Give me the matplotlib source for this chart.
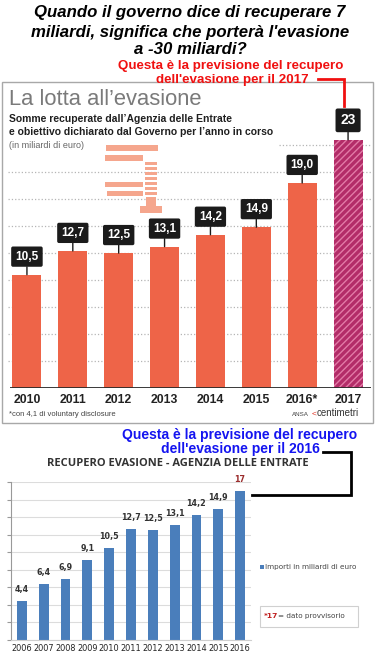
import matplotlib.pyplot as plt
from matplotlib.patches import Rectangle

# data - top panel (ANSA)
years_top = ['2010', '2011', '2012', '2013', '2014', '2015', '2016*', '2017']
values_top = [10.5, 12.7, 12.5, 13.1, 14.2, 14.9, 19.0, 23]
labels_top = ['10,5', '12,7', '12,5', '13,1', '14,2', '14,9', '19,0', '23']

# data - bottom panel (Agenzia delle Entrate)
years_bot = ['2006', '2007', '2008', '2009', '2010', '2011', '2012', '2013', '2014', '2015', '2016']
values_bot = [4.4, 6.4, 6.9, 9.1, 10.5, 12.7, 12.5, 13.1, 14.2, 14.9, 17]
labels_bot = ['4,4', '6,4', '6,9', '9,1', '10,5', '12,7', '12,5', '13,1', '14,2', '14,9', '17']

W, H = 375, 660
ARIAL = ['Liberation Sans', 'DejaVu Sans']

plt.rcParams['hatch.linewidth'] = 1.0
fig = plt.figure(figsize=(W / 100, H / 100), dpi=100)
fig.patch.set_facecolor('white')


def px_axes(left, top, right, bottom):
    return fig.add_axes([left / W, 1 - bottom / H, (right - left) / W, (bottom - top) / H])


# ---- top panel bars ----
ax1 = px_axes(4, 129, 371, 388)
ax1.set_xlim(-0.5, 7.5)
ax1.set_ylim(0, 24)
for s in ax1.spines.values():
    s.set_visible(False)
ax1.set_yticks([])
ax1.patch.set_alpha(0)

grid_levels = [2.5, 5, 7.5, 10, 12.5, 15, 17.5, 20]
ax1.hlines(grid_levels, -0.41, 7.5, colors='#b5b5b5', linestyles=':', lw=0.9, zorder=0)
ax1.hlines(22.5, 5.5, 7.5, colors='#b5b5b5', linestyles=':', lw=0.9, zorder=0)

colors_top = ['#ee6448'] * 7 + ['#b32c68']
bars = ax1.bar(range(len(values_top)), values_top, width=0.63, color=colors_top, lw=0, zorder=2)
bars[-1].set_hatch('/////')
bars[-1].set_edgecolor('#e27aa6')
ax1.hlines(0, -0.37, 7.5, colors='#2a2a2a', lw=1.3, zorder=3)

for i, (v, lab) in enumerate(zip(values_top, labels_top)):
    big = i == len(values_top) - 1
    ax1.annotate(lab, xy=(i, v), xytext=(0, 14 if big else 13), textcoords='offset points',
                 ha='center', va='center', color='white', fontweight='bold',
                 fontsize=10 if big else 8.5, family=ARIAL,
                 bbox=dict(boxstyle='round,pad=0.35,rounding_size=0.15', fc='#1b1b1b', ec='none'),
                 arrowprops=dict(arrowstyle='-', color='#1b1b1b', lw=1, shrinkA=0, shrinkB=0),
                 zorder=4)

ax1.set_xticks(range(len(years_top)))
ax1.set_xticklabels(years_top, fontsize=8.8, fontweight='bold', family=ARIAL, color='#222')
ax1.tick_params(axis='x', length=0, pad=4)

# ---- bottom panel bars ----
ax2 = px_axes(11, 482, 251, 640)
ax2.set_xlim(-0.5, 10.5)
ax2.set_ylim(0, 18)
ax2.set_axisbelow(True)
ax2.yaxis.grid(True, color='#dcdcdc', lw=0.8)
for k in ['top', 'right']:
    ax2.spines[k].set_visible(False)
ax2.spines['left'].set_color('#999')
ax2.spines['bottom'].set_color('#cfcfcf')
ax2.set_yticks(range(0, 19, 2))
ax2.set_yticklabels([])
ax2.tick_params(axis='y', length=3, color='#999')
ax2.bar(range(len(values_bot)), values_bot, width=0.45, color='#4a7ebb', lw=0)
for i, (v, lab) in enumerate(zip(values_bot, labels_bot)):
    ax2.annotate(lab, xy=(i, v), xytext=(0, 5), textcoords='offset points', ha='center',
                 va='bottom', fontsize=5.8, fontweight='bold',
                 color='#9b2d2d' if lab == '17' else '#333')
ax2.set_xticks(range(len(years_bot)))
ax2.set_xticklabels(years_bot, fontsize=5.9, color='#222')
ax2.tick_params(axis='x', length=0, pad=3)

# ---- overlay in pixel coordinates ----
ov = fig.add_axes([0, 0, 1, 1])
ov.set_xlim(0, W)
ov.set_ylim(H, 0)
ov.axis('off')

# main title
title = ["Quando il governo dice di recuperare 7",
         "miliardi, significa che porterà l'evasione",
         "a -30 miliardi?"]
for y, line in zip([13, 32, 50], title):
    ov.text(190, y, line, ha='center', va='center', fontsize=12.1, fontweight='bold',
            fontstyle='italic', family=ARIAL, color='black')

# red note
ov.text(231, 66, "Questa è la previsione del recupero", ha='center', va='center',
        fontsize=9.6, fontweight='bold', family=ARIAL, color='#f01010')
ov.text(232, 80, "dell'evasione per il 2017", ha='center', va='center',
        fontsize=9.6, fontweight='bold', family=ARIAL, color='#f01010')
ov.plot([318, 344, 344], [79, 79, 106], color='#f01010', lw=2, solid_joinstyle='miter')

# top panel frame and headings
ov.add_patch(Rectangle((2, 82), 371, 341, fc='none', ec='#a8a8a8', lw=1))
ov.text(9, 105, "La lotta all’evasione", ha='left', va='baseline', fontsize=15.8,
        color='#7a7a7a', family=ARIAL)
ov.text(9, 119, "Somme recuperate dall’Agenzia delle Entrate", ha='left', va='center',
        fontsize=7.5, fontweight='bold', family=ARIAL, color='#1f1f1f')
ov.text(9, 132, "e obiettivo dichiarato dal Governo per l’anno in corso", ha='left', va='center',
        fontsize=7.5, fontweight='bold', family=ARIAL, color='#1f1f1f')
ov.text(9, 145, "(in miliardi di euro)", ha='left', va='center', fontsize=6.5,
        family=ARIAL, color='#666')

# decorative clamp icon
icon = '#f5a68d'
for x0, y0, w, h in [(106, 145, 52, 6), (105, 155, 38, 6), (105, 182, 38, 5), (107, 191, 36, 5),
                     (146, 197, 10, 10), (140, 206, 22, 7)]:
    ov.add_patch(Rectangle((x0, y0), w, h, fc=icon, ec='none'))
for yy in range(162, 195, 5):
    ov.add_patch(Rectangle((145, yy), 12, 3, fc=icon, ec='none'))

ov.text(9, 415, "*con 4,1 di voluntary disclosure", ha='left', va='center', fontsize=5.5,
        family=ARIAL, color='#444')
ov.text(292, 414, "ANSA", ha='left', va='center', fontsize=4.5, family=ARIAL, color='#444')
ov.text(312, 414, "<", ha='left', va='center', fontsize=6, family=ARIAL, color='#e03020')
ov.text(317, 413, "centimetri", ha='left', va='center', fontsize=7, family=ARIAL, color='#333')

# blue note
ov.text(240, 435, "Questa è la previsione del recupero", ha='center', va='center',
        fontsize=10, fontweight='bold', family=ARIAL, color='#1414f0')
ov.text(240, 449, "dell'evasione per il 2016", ha='center', va='center',
        fontsize=10, fontweight='bold', family=ARIAL, color='#1414f0')
ov.plot([323, 351, 351, 252], [452, 452, 495, 495], color='black', lw=2, solid_joinstyle='miter')

ov.text(178, 463, "RECUPERO EVASIONE - AGENZIA DELLE ENTRATE", ha='center', va='center',
        fontsize=8, fontweight='bold', family=['Open Sans', 'DejaVu Sans'], color='#333')

# legend and note box
ov.add_patch(Rectangle((260, 565), 3.5, 3.5, fc='#4a7ebb', ec='none'))
ov.text(265, 567, "Importi in miliardi di euro", ha='left', va='center', fontsize=5.2,
        color='#444')
ov.add_patch(Rectangle((260, 606), 98, 21, fc='white', ec='#d0d0d0', lw=0.8))
ov.text(264, 616, "*17", ha='left', va='center', fontsize=5.4, fontweight='bold', color='#c02020')
ov.text(278, 616, "= dato provvisorio", ha='left', va='center', fontsize=5.2, color='#444')

fig.savefig('out.png', dpi=100)
